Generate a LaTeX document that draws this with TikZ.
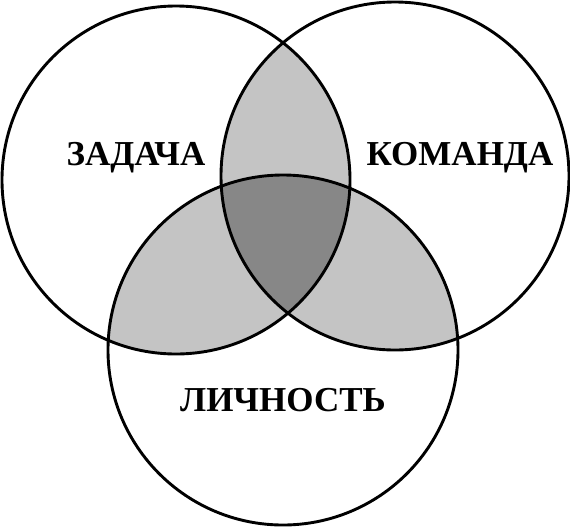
\documentclass[tikz,border=0pt]{standalone}
\usepackage{fontspec}
\setmainfont{Liberation Serif}
\usepackage{tikz}

\begin{document}
\begin{tikzpicture}[x=1pt,y=-1pt,
  krug/.style={line width=2.9pt},
  svetlo/.style={fill=black!23},
  temno/.style={fill=black!47},
  slovo/.style={anchor=base,inner sep=0pt,
    font=\bfseries\fontsize{35}{40}\selectfont}]
\useasboundingbox (0,0) rectangle (570,528);
\coordinate (cz) at (176,180);
\coordinate (ck) at (395,176);
\coordinate (cl) at (283,350);
% pairwise overlaps
\begin{scope}
  \clip (cz) circle (174pt);
  \fill[svetlo] (ck) circle (174pt);
  \fill[svetlo] (cl) circle (175pt);
\end{scope}
\begin{scope}
  \clip (ck) circle (174pt);
  \fill[svetlo] (cl) circle (175pt);
\end{scope}
% common part
\begin{scope}
  \clip (cz) circle (174pt);
  \clip (ck) circle (174pt);
  \fill[temno] (cl) circle (175pt);
\end{scope}
\draw[krug] (cz) circle (174pt);
\draw[krug] (ck) circle (174pt);
\draw[krug] (cl) circle (175pt);
\node[slovo] (zadacha) at (136,165) {ЗАДАЧА};
\node[slovo] (komanda) at (460,165) {КОМАНДА};
\node[slovo] (lichnost) at (283,411) {ЛИЧНОСТЬ};
\end{tikzpicture}
\end{document}
